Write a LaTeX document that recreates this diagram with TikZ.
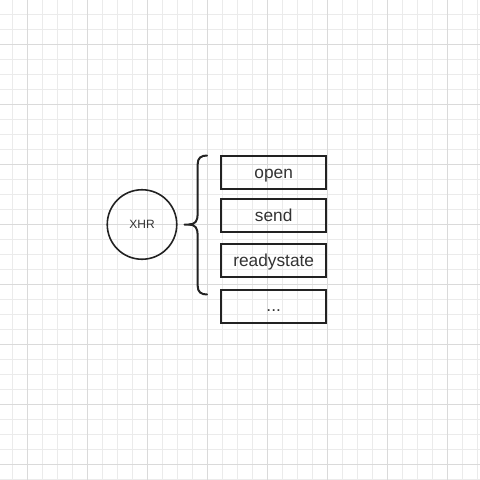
\documentclass[tikz,border=0pt]{standalone}
\usepackage{fontspec}
\setmainfont{Liberation Sans}
\definecolor{gminor}{HTML}{EBEBEB}
\definecolor{gmajor}{HTML}{DADADA}
\definecolor{ink}{HTML}{222222}
\definecolor{txt}{HTML}{333333}
\tikzset{
  itembox/.style={draw=ink, line width=2pt, minimum width=105pt, minimum height=33pt, inner sep=0pt, text height=12.8pt, text depth=0pt, font=\fontsize{17.3}{19}\selectfont, text=txt},
  xhrnode/.style={draw=ink, line width=1.6pt, circle, minimum size=69.5pt, inner sep=0pt, font=\fontsize{12}{14}\selectfont, text=txt},
  bracestyle/.style={draw=ink, line width=2pt, line cap=round, line join=round}
}
\begin{document}
\begin{tikzpicture}[x=1pt,y=-1pt]
\useasboundingbox (0,0) rectangle (480,480);
\fill[white] (0,0) rectangle (480,480);
% grid
\foreach \i in {0,...,31} {
  \draw[gminor, line width=1pt] ({12.5+15*\i},0) -- ({12.5+15*\i},480);
  \draw[gminor, line width=1pt] (0,{14.5+15*\i}) -- (480,{14.5+15*\i});
}
\foreach \i in {0,...,7} {
  \draw[gmajor, line width=1pt] ({27.5+60*\i},0) -- ({27.5+60*\i},480);
  \draw[gmajor, line width=1pt] (0,{44.5+60*\i}) -- (480,{44.5+60*\i});
}
% nodes
\node[xhrnode] (xhr) at (142,224.5) {XHR};
\node[itembox] (open) at (273.7,172.5) {open};
\node[itembox] (send) at (273.7,215.5) {send};
\node[itembox] (ready) at (273.7,260.2) {readystate};
\node[itembox, text height=10pt] (more) at (273.7,306.5) {...};
% brace
\coordinate (tip) at (184.5,224.5);
\coordinate (btop) at (207,155.5);
\coordinate (bbot) at (207,294.5);
\draw[bracestyle] (btop) .. controls (201,155.5) and (197.7,158) .. (197.7,164)
  -- (197.7,214) .. controls (197.7,221) and (195,224.5) .. (189,224.5) -- (tip);
\draw[bracestyle] (bbot) .. controls (201,294.5) and (197.7,292) .. (197.7,286)
  -- (197.7,235) .. controls (197.7,228) and (195,224.5) .. (189,224.5);
\end{tikzpicture}
\end{document}
